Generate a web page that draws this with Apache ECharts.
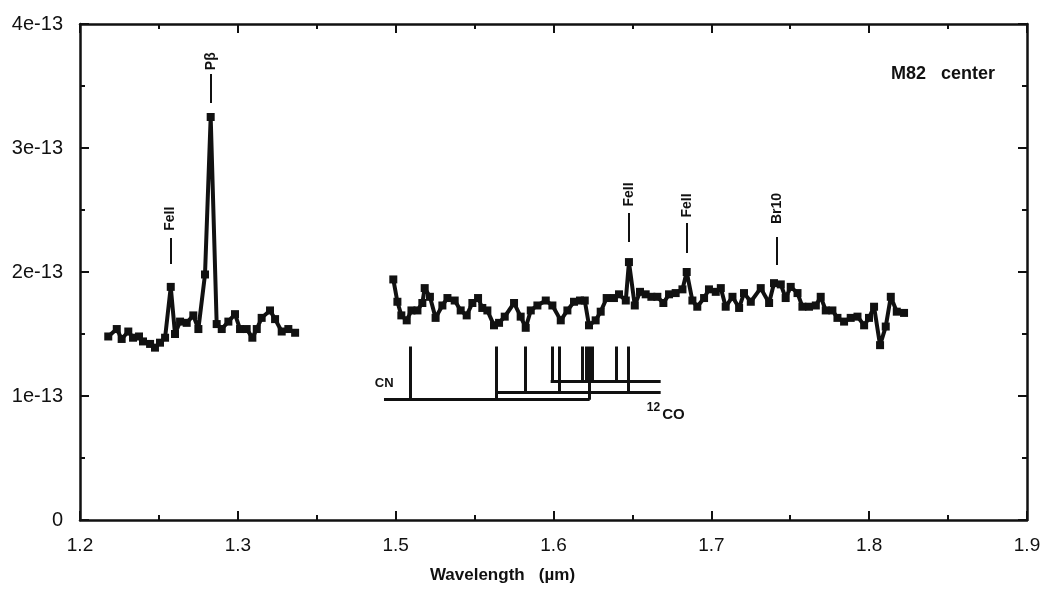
<!DOCTYPE html>
<html>
<head>
<meta charset="utf-8">
<script src="https://cdn.jsdelivr.net/npm/echarts@6/dist/echarts.min.js"></script>
<style>
html,body{margin:0;padding:0;background:#fff;}
#chart{width:1048px;height:590px;}
</style>
</head>
<body>
<div id="chart"></div>
<script>
// ---- Data (wavelength in µm, flux in units of 1e-13) ----
const leftWave = [1.2179,1.2233,1.2264,1.2306,1.2336,1.2374,1.2399,1.2444,1.2475,1.2507,1.2539,1.2575,1.2602,1.2634,1.2676,1.2718,1.2750,1.2792,1.2828,1.2866,1.2898,1.2940,1.2982,1.3014,1.3056,1.3092,1.3120,1.3151,1.3204,1.3236,1.3278,1.3320,1.3363];
const leftFlux = [1.48,1.54,1.46,1.52,1.47,1.48,1.44,1.42,1.39,1.43,1.47,1.88,1.50,1.60,1.59,1.65,1.54,1.98,3.25,1.58,1.54,1.60,1.66,1.54,1.54,1.47,1.54,1.63,1.69,1.62,1.52,1.54,1.51];

const rightWave = [1.4985,1.5011,1.5036,1.5070,1.5100,1.5138,1.5169,1.5184,1.5217,1.5253,1.5296,1.5328,1.5374,1.5412,1.5450,1.5486,1.5522,1.5549,1.5581,1.5623,1.5655,1.5691,1.5750,1.5792,1.5824,1.5856,1.5898,1.5951,1.5993,1.6046,1.6088,1.6130,1.6168,1.6198,1.6225,1.6267,1.6299,1.6337,1.6383,1.6415,1.6458,1.6478,1.6515,1.6548,1.6584,1.6620,1.6658,1.6696,1.6732,1.6774,1.6817,1.6844,1.6880,1.6911,1.6954,1.6985,1.7028,1.7060,1.7091,1.7134,1.7176,1.7207,1.7250,1.7313,1.7366,1.7397,1.7440,1.7471,1.7503,1.7546,1.7577,1.7619,1.7662,1.7693,1.7725,1.7767,1.7799,1.7841,1.7883,1.7926,1.7968,1.7999,1.8031,1.8069,1.8105,1.8137,1.8175,1.8221];
const rightFlux = [1.94,1.76,1.65,1.61,1.69,1.69,1.75,1.87,1.80,1.63,1.73,1.79,1.77,1.69,1.65,1.75,1.79,1.71,1.69,1.57,1.59,1.64,1.75,1.64,1.55,1.69,1.73,1.77,1.73,1.61,1.69,1.76,1.77,1.77,1.57,1.61,1.68,1.79,1.79,1.82,1.77,2.08,1.73,1.84,1.82,1.80,1.80,1.75,1.82,1.83,1.86,2.00,1.77,1.72,1.79,1.86,1.84,1.87,1.72,1.80,1.71,1.83,1.76,1.87,1.75,1.91,1.90,1.79,1.88,1.83,1.72,1.72,1.73,1.80,1.69,1.69,1.63,1.60,1.63,1.64,1.57,1.63,1.72,1.41,1.56,1.80,1.68,1.67];

// Emission line identifications
const lineIdNames  = ['FeII','Pβ','FeII','FeII','Br10'];
const lineIdWave   = [1.2574,1.2830,1.6477,1.6844,1.7414];
const lineIdText   = [2.43,3.70,2.625,2.536,2.512];
const lineIdTop    = [2.274,3.597,2.476,2.395,2.282];
const lineIdBottom = [2.065,3.363,2.242,2.153,2.056];

// CN / 12CO band-head ladder
const bandWave   = [1.5091,1.5638,1.5824,1.5993,1.6039,1.6185,1.6206,1.6229,1.6248,1.6399,1.6472];
const bandTop    = [1.40,1.40,1.40,1.40,1.40,1.40,1.40,1.40,1.40,1.40,1.40];
const bandBottom = [0.97,0.97,1.03,1.12,1.03,1.12,1.12,0.97,1.12,1.12,1.03];
const barStart = [1.4926,1.5638,1.5982];
const barEnd   = [1.6229,1.6679,1.6679];
const barLevel = [0.97,1.03,1.12];

const xTickLabels = ['1.2','1.3','1.5','1.6','1.7','1.8','1.9'];
const yTickLabels = ['0','1e-13','2e-13','3e-13','4e-13'];

// Broken wavelength axis: 1.3 -> 1.5 occupies one 0.1 step
function toAxis(w){ return w > 1.42 ? w - 0.1 : w; }

const FONT = "'Liberation Sans', Arial, Helvetica, sans-serif";
const INK = '#111';

const chart = echarts.init(document.getElementById('chart'), null, {renderer:'canvas'});

function xAx(pos, showLabel){
  return {
    type:'value', position:pos, min:1.2, max:1.8, interval:0.1,
    axisLine:{show:true, onZero:false, lineStyle:{color:INK, width:2.5}},
    axisTick:{show:true, inside:true, length:9, lineStyle:{color:INK, width:2}},
    minorTick:{show:true, splitNumber:2, length:5, lineStyle:{color:INK, width:2}},
    splitLine:{show:false},
    axisLabel:{show:showLabel, margin:16, color:INK, fontSize:19, fontFamily:FONT,
      formatter:function(u){ const i = Math.round((u-1.2)/0.1); return xTickLabels[i] || ''; }},
    name: showLabel ? 'Wavelength   (µm)' : '',
    nameLocation:'middle', nameGap:47,
    nameTextStyle:{color:INK, fontSize:17, fontWeight:'bold', fontFamily:FONT, padding:[0,102,0,0]}
  };
}
function yAx(pos, showLabel){
  return {
    type:'value', position:pos, min:0, max:4, interval:1,
    axisLine:{show:true, onZero:false, lineStyle:{color:INK, width:2.5}},
    axisTick:{show:true, inside:true, length:9, lineStyle:{color:INK, width:2}},
    minorTick:{show:true, splitNumber:2, length:5, lineStyle:{color:INK, width:2}},
    splitLine:{show:false},
    axisLabel:{show:showLabel, margin:17, color:INK, fontSize:20, fontFamily:FONT,
      formatter:function(v){ return yTickLabels[Math.round(v)] || ''; }}
  };
}

const idTicks = lineIdWave.map((w,i)=>({coords:[[toAxis(w), lineIdBottom[i]],[toAxis(w), lineIdTop[i]]]}));
const bandLines = bandWave.map((w,i)=>({coords:[[toAxis(w), bandBottom[i]],[toAxis(w), bandTop[i]]]}))
  .concat(barStart.map((s,i)=>({coords:[[toAxis(s), barLevel[i]],[toAxis(barEnd[i]), barLevel[i]]]})));

const spectrumStyle = {
  type:'line', symbol:'rect', symbolSize:8, showSymbol:true,
  lineStyle:{color:INK, width:4}, itemStyle:{color:INK}, z:5
};

const labelBase = {show:true, position:'inside', color:INK, fontWeight:'bold', fontFamily:FONT,
  textBorderWidth:0, textShadowBlur:0, opacity:1};

const option = {
  animation:false,
  backgroundColor:'#fff',
  title:{text:'M82   center', left:886, top:60,
    textStyle:{color:INK, fontSize:18, fontWeight:'bold', fontFamily:FONT}},
  grid:{left:80, right:21, top:24, bottom:70, containLabel:false},
  xAxis:[xAx('bottom', true), xAx('top', false)],
  yAxis:[yAx('left', true), yAx('right', false)],
  series:[
    Object.assign({name:'left', data:leftWave.map((w,i)=>[toAxis(w), leftFlux[i]])}, spectrumStyle),
    Object.assign({name:'right', data:rightWave.map((w,i)=>[toAxis(w), rightFlux[i]])}, spectrumStyle),
    {type:'lines', coordinateSystem:'cartesian2d', polyline:false, data:bandLines,
      lineStyle:{color:INK, width:3, opacity:1}, z:4},
    {type:'lines', coordinateSystem:'cartesian2d', polyline:false, data:idTicks,
      lineStyle:{color:INK, width:2, opacity:1}, z:4},
    {type:'scatter', symbol:'circle', symbolSize:0, itemStyle:{color:'#fff'},
      data:lineIdWave.map((w,i)=>({value:[toAxis(w), lineIdText[i]], name:lineIdNames[i]})),
      label:Object.assign({}, labelBase, {rotate:90, formatter:'{b}', fontSize:14}), z:6},
    {type:'scatter', symbol:'circle', symbolSize:0, itemStyle:{color:'#fff'},
      data:[{value:[toAxis(1.4927), 1.10], name:'CN'}],
      label:Object.assign({}, labelBase, {formatter:'{b}', fontSize:13}), z:6},
    {type:'scatter', symbol:'circle', symbolSize:0, itemStyle:{color:'#fff'},
      data:[{value:[toAxis(1.6711), 0.87], name:'12CO'}],
      label:Object.assign({}, labelBase, {formatter:'{s|12}{c|CO}',
        rich:{s:{fontSize:12, fontWeight:'bold', fontFamily:FONT, color:INK, padding:[0,2,8,0]},
              c:{fontSize:15, fontWeight:'bold', fontFamily:FONT, color:INK, padding:[6,0,0,0]}}}), z:6}
  ]
};
chart.setOption(option);
</script>
</body>
</html>
